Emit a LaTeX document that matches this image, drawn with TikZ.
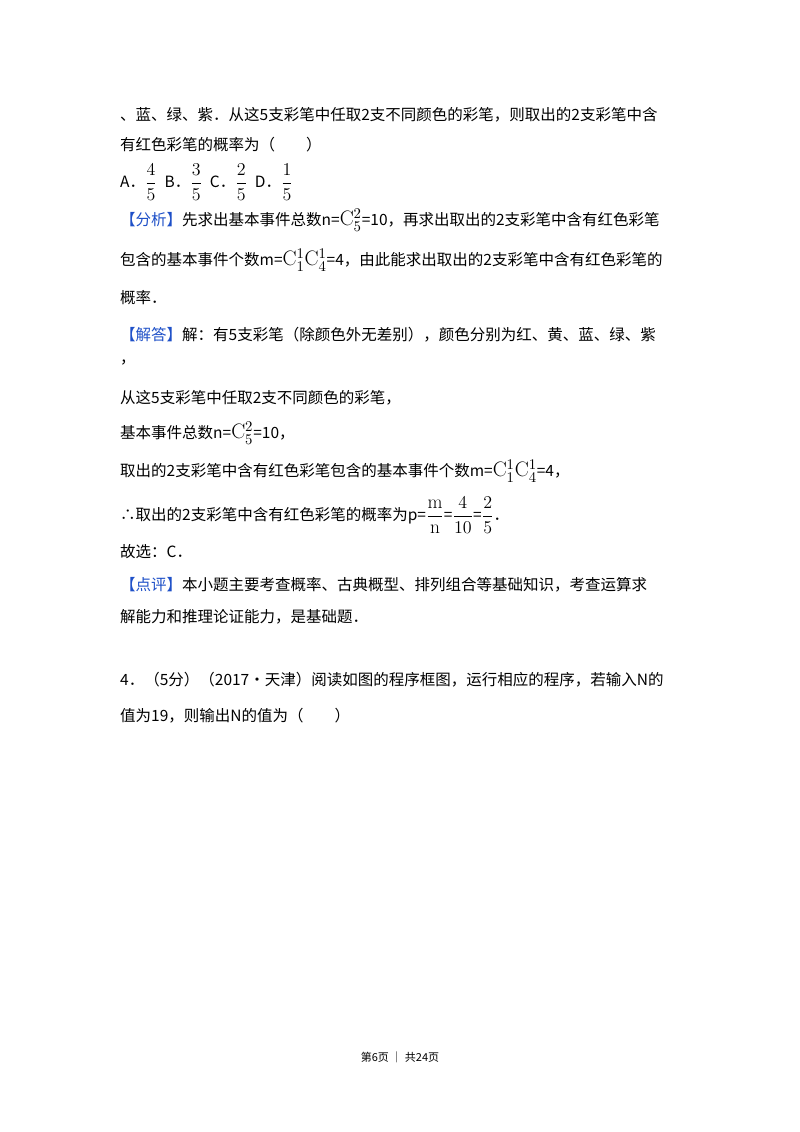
\documentclass[tikz,border=0pt]{standalone}
\usepackage{amsmath}
\usepackage{fontspec}
\newfontfamily\cjk{Noto Sans CJK SC}
\definecolor{tagblue}{RGB}{30,80,200}
\newcommand{\cmb}[2]{\scalebox{1.35}{$\mathrm{C}_{#1}^{#2}$}}
\newcommand{\fr}[2]{\scalebox{1.25}{$\dfrac{#1}{#2}$}}
\begin{document}
\begin{tikzpicture}[x=1pt,y=-1pt,
  txt/.style={anchor=west,inner sep=0pt,font=\cjk\fontsize{15.5}{18}\selectfont}]
\useasboundingbox (0,0) rectangle (800,1132);
\fill[white] (0,0) rectangle (800,1132);
\node[txt] (l1) at (120,115) {、蓝、绿、紫．从这5支彩笔中任取2支不同颜色的彩笔，则取出的2支彩笔中含};
\node[txt] (l2) at (120,145) {有红色彩笔的概率为（\quad\quad）};
\node[txt] (l3) at (120,182) {A．\fr{4}{5}\enspace B．\fr{3}{5}\enspace C．\fr{2}{5}\enspace D．\fr{1}{5}};
\node[txt] (l4) at (120,220) {{\color{tagblue}【分析】}先求出基本事件总数n=\cmb{5}{2}=10，再求出取出的2支彩笔中含有红色彩笔};
\node[txt] (l5) at (120,260) {包含的基本事件个数m=\cmb{1}{1}\cmb{4}{1}=4，由此能求出取出的2支彩笔中含有红色彩笔的};
\node[txt] (l6) at (120,298) {概率．};
\node[txt] (l7) at (120,335) {{\color{tagblue}【解答】}解：有5支彩笔（除颜色外无差别），颜色分别为红、黄、蓝、绿、紫};
\node[txt] (l8) at (120,363) {，};
\node[txt] (l9) at (120,398) {从这5支彩笔中任取2支不同颜色的彩笔，};
\node[txt] (l10) at (120,433) {基本事件总数n=\cmb{5}{2}=10，};
\node[txt] (l11) at (120,471) {取出的2支彩笔中含有红色彩笔包含的基本事件个数m=\cmb{1}{1}\cmb{4}{1}=4，};
\node[txt] (l12) at (120,515) {∴取出的2支彩笔中含有红色彩笔的概率为p=\fr{\mathrm{m}}{\mathrm{n}}=\fr{4}{10}=\fr{2}{5}．};
\node[txt] (l13) at (120,552) {故选：C．};
\node[txt] (l14) at (120,585) {{\color{tagblue}【点评】}本小题主要考查概率、古典概型、排列组合等基础知识，考查运算求};
\node[txt] (l15) at (120,617) {解能力和推理论证能力，是基础题．};
\node[txt] (l16) at (120,680) {4．（5分）（2017•天津）阅读如图的程序框图，运行相应的程序，若输入N的};
\node[txt] (l17) at (120,716) {值为19，则输出N的值为（\quad\quad）};
\node[font=\cjk\fontsize{11}{13}\selectfont,inner sep=0pt] (ft) at (400,1057) {第6页 ｜ 共24页};
\end{tikzpicture}
\end{document}
